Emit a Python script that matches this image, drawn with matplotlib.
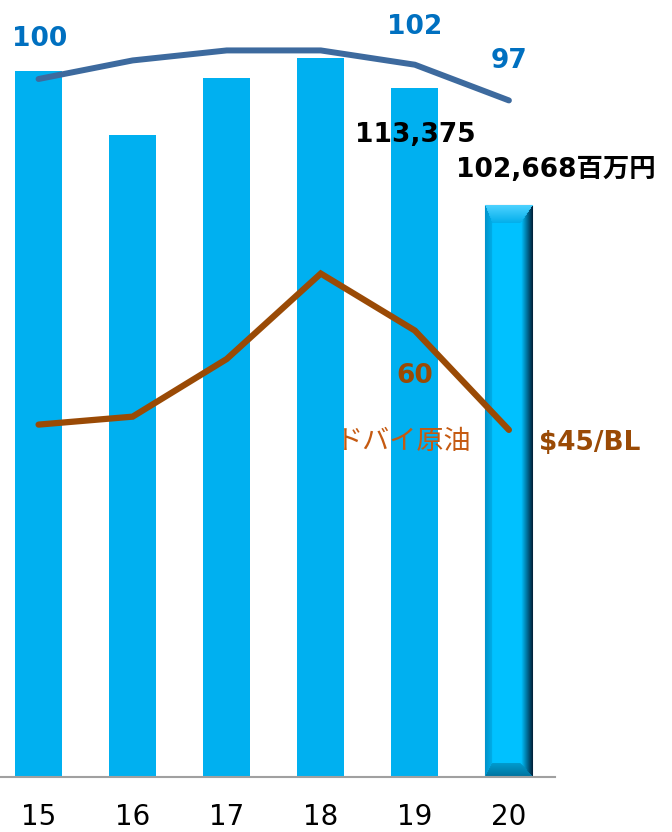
import numpy as np
import matplotlib.pyplot as plt

# fiscal years and figures
years = [15, 16, 17, 18, 19, 20]
year_labels = ["15", "16", "17", "18", "19", "20"]
sales = [114930, 109074, 114317, 116165, 113375, 102668]   # 百万円
index = [100, 102.6, 104, 104, 102, 97]
dubai = [45.8, 47.0, 55.7, 68.6, 60, 45]                    # $/BL

BAR = "#00B0F0"
IDX = "#3D6A9E"
OIL = "#9A4A05"

fig = plt.figure(figsize=(6.72, 8.32), dpi=100)
ax = fig.add_axes([0, 1 - 777 / 832, 555 / 672, 777 / 832])
ax.set_xlim(14.59, 20.49)
ax.set_ylim(50331, 121427)

bars = ax.bar(years[:-1], sales[:-1], width=0.5, color=BAR, zorder=2)
last = ax.bar(years[-1:], sales[-1:], width=0.5, color="#00BFFF",
              edgecolor="#7F8C94", linewidth=0.8, zorder=2)[0]

# bevelled shading for the latest year's bar
W, H = 47, 572
img = np.zeros((H, W, 3))
xs = np.arange(W)
left = np.array([0.0, 0.58, 0.80])
mid = np.array([0.0, 0.76, 1.0])
dark = np.array([0.0, 0.14, 0.24])
for x in xs:
    if x < 7:
        c = left + (mid - left) * (x / 7) * 0.6
    elif x < W - 12:
        c = mid
    else:
        t = (x - (W - 12)) / 11
        c = mid * (1 - t) + dark * t
    img[:, x] = c
top_h, bot_h = 18, 14
for y in range(top_h):
    for x in xs:
        if x >= y * 7 / top_h and x <= W - 1 - y * 12 / top_h:
            t = y / top_h
            img[y, x] = np.array([0.3, 0.82, 1.0]) * (1 - t) + np.array([0.0, 0.68, 0.92]) * t
for j in range(bot_h):
    y = H - 1 - j
    for x in xs:
        if x >= j * 7 / bot_h and x <= W - 1 - j * 12 / bot_h:
            t = j / bot_h
            img[y, x] = np.array([0.0, 0.45, 0.62]) * (1 - t) + np.array([0.0, 0.62, 0.82]) * t
x0 = last.get_x()
im = ax.imshow(img, extent=[x0, x0 + last.get_width(), ax.get_ylim()[0], last.get_height()],
               aspect="auto", zorder=2.5, interpolation="bilinear")
im.set_clip_path(last)

for s in ["top", "left", "right"]:
    ax.spines[s].set_visible(False)
ax.spines["bottom"].set_color("#A0A0A0")
ax.spines["bottom"].set_linewidth(1.5)
ax.set_yticks([])
ax.set_xticks(years)
ax.set_xticklabels(year_labels, fontsize=20)
ax.tick_params(axis="x", length=0, pad=19)

ax.annotate(f"{sales[4]:,}", (years[4], sales[4]), xytext=(0, -34), textcoords="offset points",
            ha="center", va="center", fontsize=19, fontweight="bold", color="black", zorder=5)
ax.annotate(f"{sales[5]:,}百万円", (years[5], sales[5]), xytext=(-38, 25), textcoords="offset points",
            ha="left", va="center", fontsize=19, fontweight="bold", color="black",
            family=["DejaVu Sans", "Noto Sans CJK JP"], zorder=5)

# index line
ax2 = ax.twinx()
ax2.set_ylim(2.28, 111.06)
ax2.axis("off")
ax2.plot(years, index, color=IDX, lw=4.3, solid_capstyle="round", solid_joinstyle="miter")
for i, dy in [(0, 28.5), (4, 27), (5, 28.5)]:
    ax2.annotate(f"{index[i]:g}", (years[i], index[i]), xytext=(1 if i == 0 else 0, dy),
                 textcoords="offset points", ha="center", va="center",
                 fontsize=19, fontweight="bold", color="#0070C0")

# Dubai crude line
ax3 = ax.twinx()
ax3.set_ylim(-7.4, 109.9)
ax3.axis("off")
ax3.plot(years, dubai, color=OIL, lw=4.5, solid_capstyle="round", solid_joinstyle="miter")
ax3.annotate(f"{dubai[4]:g}", (years[4], dubai[4]), xytext=(0, -33), textcoords="offset points",
             ha="center", va="center", fontsize=19, fontweight="bold", color=OIL)
ax3.annotate(f"${dubai[5]:g}/BL", (years[5], dubai[5]), xytext=(21.6, -9.4), textcoords="offset points",
             ha="left", va="center", fontsize=19, fontweight="bold", color=OIL)
ax3.annotate("ドバイ原油", (years[5], dubai[5]), xytext=(-75.6, -8.5), textcoords="offset points",
             ha="center", va="center", fontsize=19.5, color="#C55A11", family="Noto Sans CJK JP")

fig.savefig("out.png", dpi=100)
